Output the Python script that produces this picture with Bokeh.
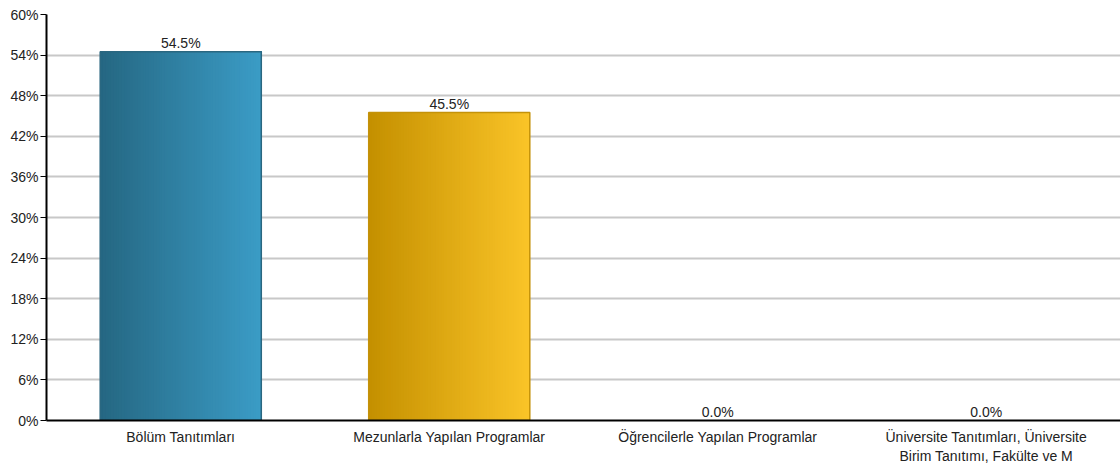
from bokeh.plotting import figure
from bokeh.models import Range1d, FixedTicker, PrintfTickFormatter, ColumnDataSource
from bokeh.embed import file_html
from bokeh.resources import INLINE
from bokeh.core.properties import value

categories = ["Bölüm Tanıtımları", "Mezunlarla Yapılan Programlar",
              "Öğrencilerle Yapılan Programlar",
              "Üniversite Tanıtımları, Üniversite\nBirim Tanıtımı, Fakülte ve M"]
percent = [54.5, 45.5, 0.0, 0.0]
y_ticks = [0, 6, 12, 18, 24, 30, 36, 42, 48, 54, 60]

left_colors = [(0x25, 0x67, 0x82), (0xc4, 0x90, 0x00), (0x25, 0x67, 0x82), (0xc4, 0x90, 0x00)]
right_colors = [(0x3b, 0x9c, 0xc6), (0xfa, 0xc4, 0x28), (0x3b, 0x9c, 0xc6), (0xfa, 0xc4, 0x28)]
edge_colors = ["#2a6780", "#c4920a", "#2a6780", "#c4920a"]

FONT = "Liberation Sans"
BAR_W = 0.6
N = 60

p = figure(width=1120, height=466, output_backend="svg", toolbar_location=None,
           x_range=Range1d(0, len(categories)), y_range=Range1d(0, 60),
           min_border_left=46, min_border_top=14, min_border_right=0, min_border_bottom=45)
p.outline_line_color = None

# gradient: overlapping strips, each from its left position to the bar's right edge
lefts, rights, tops, cols = [], [], [], []
for i, v in enumerate(percent):
    if v <= 0:
        continue
    lc, rc = left_colors[i], right_colors[i]
    x0 = i + 0.5 - BAR_W / 2
    for k in range(N):
        t = (k + 0.5) / N
        c = tuple(int(round(lc[j] + (rc[j] - lc[j]) * t)) for j in range(3))
        lefts.append(x0 + k * BAR_W / N)
        rights.append(x0 + BAR_W)
        tops.append(v)
        cols.append("#%02x%02x%02x" % c)
p.quad(left=lefts, right=rights, top=tops, bottom=0, fill_color=cols, line_color=None)

centers = [i + 0.5 for i in range(len(categories))]
src = ColumnDataSource(dict(x=centers, top=percent, lab=["%.1f%%" % v for v in percent]))
nz = ColumnDataSource(dict(x=[c for c, v in zip(centers, percent) if v > 0],
                           top=[v for v in percent if v > 0],
                           edge=[e for e, v in zip(edge_colors, percent) if v > 0]))
p.vbar(x="x", top="top", bottom=0, width=BAR_W, source=nz, fill_color=None,
       line_color="edge", line_width=1.5)

p.text(x="x", y="top", text="lab", source=src, text_align="center", text_baseline="bottom",
       y_offset=-1, text_font=value(FONT), text_font_size="14px", text_color="#222222")

# axes
p.yaxis.ticker = FixedTicker(ticks=y_ticks)
p.yaxis.formatter = PrintfTickFormatter(format="%d%%")
p.yaxis.axis_line_color = "black"
p.yaxis.axis_line_width = 2
p.yaxis.major_tick_out = 6
p.yaxis.major_tick_in = 0
p.yaxis.major_tick_line_color = "black"
p.yaxis.minor_tick_line_color = None
p.yaxis.major_label_standoff = 2
p.yaxis.major_label_text_font = FONT
p.yaxis.major_label_text_font_size = "14px"
p.yaxis.major_label_text_color = "#222222"

p.xaxis.ticker = FixedTicker(ticks=centers)
p.xaxis.major_label_overrides = {c: lab for c, lab in zip(centers, categories)}
p.xaxis.axis_line_color = "black"
p.xaxis.axis_line_width = 2
p.xaxis.major_tick_line_color = None
p.xaxis.minor_tick_line_color = None
p.xaxis.major_tick_out = 0
p.xaxis.major_tick_in = 0
p.xaxis.major_label_standoff = 8
p.xaxis.major_label_text_font = FONT
p.xaxis.major_label_text_font_size = "14px"
p.xaxis.major_label_text_color = "#222222"

p.xgrid.grid_line_color = None
p.ygrid.grid_line_color = "#c8c8c8"
p.ygrid.grid_line_width = 2
p.ygrid.level = "underlay"

open("out.html", "w").write(file_html(p, INLINE))
